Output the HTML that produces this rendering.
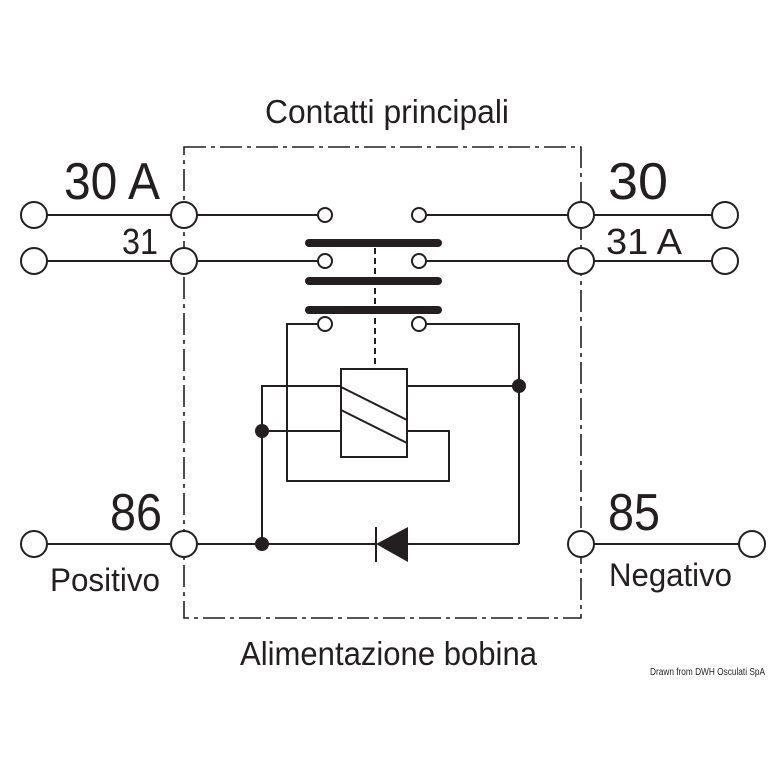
<!DOCTYPE html>
<html><head><style>body{margin:0;background:#fff}svg{display:block}</style></head><body>
<svg width="768" height="768" viewBox="0 0 768 768" xmlns="http://www.w3.org/2000/svg" font-family="Liberation Sans, sans-serif" fill="#231f20">
<g stroke="#231f20" stroke-width="2" fill="none">
<rect x="184" y="147" width="397" height="471" stroke-dasharray="22,5,4,5" stroke-width="1.6"/>
<!-- terminal wires -->
<line x1="34" y1="215" x2="317" y2="215"/><line x1="34" y1="261" x2="317" y2="261"/>
<line x1="427" y1="215" x2="725" y2="215"/><line x1="427" y1="261" x2="725" y2="261"/>
<line x1="34" y1="544" x2="376" y2="544"/><line x1="408" y1="544" x2="519" y2="544"/>
<line x1="581" y1="544" x2="752" y2="544"/>
<!-- internal -->
<polyline points="317,324 287,324 287,481 449,481 449,431 407,431"/>
<polyline points="427,324 519,324 519,544"/>
<line x1="407" y1="386" x2="519" y2="386"/>
<polyline points="341,386 262,386 262,544"/>
<line x1="262" y1="431" x2="341" y2="431"/>
<rect x="341" y="369" width="66" height="88"/>
<line x1="341" y1="387" x2="407" y2="420"/><line x1="341" y1="410" x2="407" y2="443"/>
<line x1="375" y1="248" x2="375" y2="366" stroke-dasharray="6,4"/>
<line x1="376" y1="527" x2="376" y2="562"/>
</g>
<g stroke="#231f20" stroke-width="8" stroke-linecap="round">
<line x1="309" y1="243" x2="438" y2="243"/><line x1="309" y1="281" x2="438" y2="281"/><line x1="309" y1="310" x2="438" y2="310"/>
</g>
<polygon points="376,544 408,527 408,562"/>
<g fill="#231f20"><circle cx="519" cy="386" r="7"/><circle cx="262" cy="431" r="7"/><circle cx="262" cy="544" r="7"/></g>
<g stroke="#231f20" stroke-width="2" fill="#fff">
<circle cx="325" cy="215" r="7"/><circle cx="419" cy="215" r="7"/>
<circle cx="325" cy="261" r="7"/><circle cx="419" cy="261" r="7"/>
<circle cx="325" cy="324" r="7"/><circle cx="419" cy="324" r="7"/>
<circle cx="34" cy="215" r="13"/><circle cx="34" cy="261" r="13"/><circle cx="34" cy="544" r="13"/>
<circle cx="184" cy="215" r="13"/><circle cx="184" cy="261" r="13"/><circle cx="184" cy="544" r="13"/>
<circle cx="581" cy="215" r="13"/><circle cx="581" cy="261" r="13"/><circle cx="581" cy="544" r="13"/>
<circle cx="725" cy="215" r="13"/><circle cx="725" cy="261" r="13"/><circle cx="752" cy="544" r="13"/>
</g>
<g stroke="none">
<text x="265" y="123" font-size="33" textLength="244" lengthAdjust="spacingAndGlyphs">Contatti principali</text>
<text x="64" y="199" font-size="52" textLength="96" lengthAdjust="spacingAndGlyphs">30 A</text>
<text x="122" y="254" font-size="36" textLength="36" lengthAdjust="spacingAndGlyphs">31</text>
<text x="608" y="199" font-size="52" textLength="60" lengthAdjust="spacingAndGlyphs">30</text>
<text x="606" y="254" font-size="36" textLength="76" lengthAdjust="spacingAndGlyphs">31 A</text>
<text x="110" y="530" font-size="52" textLength="52" lengthAdjust="spacingAndGlyphs">86</text>
<text x="608" y="530" font-size="52" textLength="52" lengthAdjust="spacingAndGlyphs">85</text>
<text x="50" y="591" font-size="32" textLength="110" lengthAdjust="spacingAndGlyphs">Positivo</text>
<text x="609" y="586" font-size="32" textLength="123" lengthAdjust="spacingAndGlyphs">Negativo</text>
<text x="240" y="665" font-size="33" textLength="297" lengthAdjust="spacingAndGlyphs">Alimentazione bobina</text>
<text x="650" y="675" font-size="10" textLength="115" lengthAdjust="spacingAndGlyphs">Drawn from DWH Osculati SpA</text>
</g>
</svg>
</body></html>
